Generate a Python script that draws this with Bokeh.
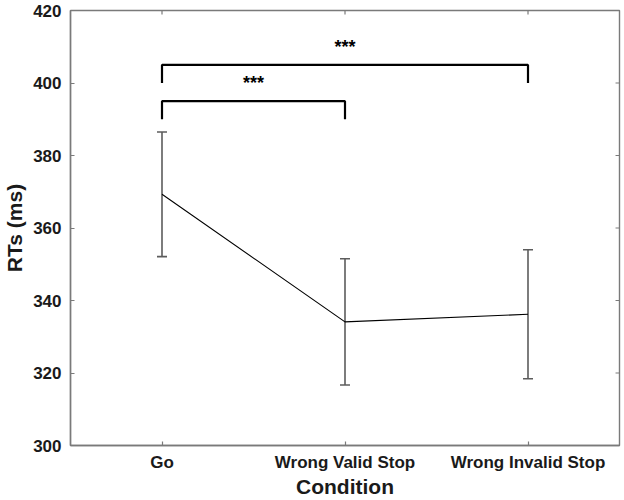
from bokeh.plotting import figure
from bokeh.models import ColumnDataSource, Whisker, TeeHead, FixedTicker, Range1d
from bokeh.embed import file_html
from bokeh.resources import INLINE
from bokeh.core.properties import value

# ---- data ----
conditions = ["Go", "Wrong Valid Stop", "Wrong Invalid Stop"]
mean_rt = [369.3, 334.1, 336.2]
err_rt = [17.2, 17.4, 17.8]
y_ticks = [300, 320, 340, 360, 380, 400, 420]

# significance brackets: (index a, index b, bracket height, label)
sig_a = [0, 0]
sig_b = [1, 2]
sig_h = [395, 405]
sig_lbl = ["***", "***"]
drop = 5

xs = [i + 1 for i in range(len(conditions))]
x0, x1 = 0.5, len(conditions) + 0.5
y0, y1 = y_ticks[0], y_ticks[-1]

FONT = "Liberation Sans"
AXIS_COL = "#7a7a7a"
TXT_COL = "#1a1a1a"

W, H = 624, 500
BL, BR, BT, BB = 66, 5, 10, 53
p = figure(width=W, height=H, output_backend="svg", toolbar_location=None,
           x_range=Range1d(x0, x1), y_range=Range1d(y0, y1),
           min_border_left=BL, min_border_right=BR, min_border_top=BT,
           min_border_bottom=BB)
p.grid.visible = False
p.outline_line_color = AXIS_COL
p.outline_line_width = 1.4
p.background_fill_color = "white"
p.border_fill_color = "white"

def style_axis(ax):
    ax.axis_line_color = AXIS_COL
    ax.axis_line_width = 1.4
    ax.major_tick_line_color = AXIS_COL
    ax.major_tick_line_width = 1.2
    ax.major_tick_in = 4
    ax.major_tick_out = 0
    ax.minor_tick_line_color = None
    ax.major_label_text_font = FONT
    ax.major_label_text_font_style = "bold"
    ax.major_label_text_color = TXT_COL
    ax.major_label_text_font_size = "17px"
    ax.axis_label_text_font = FONT
    ax.axis_label_text_font_style = "bold"
    ax.axis_label_text_font_size = "21px"
    ax.axis_label_text_color = TXT_COL

# bottom x axis
xax = p.xaxis[0]
xax.ticker = FixedTicker(ticks=xs)
xax.major_label_overrides = {x: c for x, c in zip(xs, conditions)}
style_axis(xax)
xax.major_label_standoff = 7
xax.axis_label = "Condition"
xax.axis_label_standoff = 0

# left y axis
yax = p.yaxis[0]
yax.ticker = FixedTicker(ticks=y_ticks)
style_axis(yax)
yax.major_label_standoff = 9
yax.axis_label = "RTs (ms)"
yax.axis_label_standoff = 4

# inward tick marks on the mirrored top and right edges (frame box)
fw, fh = W - BL - BR, H - BT - BB
tick_dy = 4 * (y1 - y0) / fh
tick_dx = 4 * (x1 - x0) / fw
p.segment(x0=xs, y0=[y1] * len(xs), x1=xs, y1=[y1 - tick_dy] * len(xs),
          line_color=AXIS_COL, line_width=1.2)
p.segment(x0=[x1] * len(y_ticks), y0=y_ticks, x1=[x1 - tick_dx] * len(y_ticks),
          y1=y_ticks, line_color=AXIS_COL, line_width=1.2)

# mean line with error bars
src = ColumnDataSource(dict(x=xs, y=mean_rt,
                            upper=[m + e for m, e in zip(mean_rt, err_rt)],
                            lower=[m - e for m, e in zip(mean_rt, err_rt)]))
ERR_COL = "#5c5c5c"
w = Whisker(source=src, base="x", upper="upper", lower="lower",
            dimension="height", line_color=ERR_COL, line_width=1.6,
            upper_head=TeeHead(size=10, line_color=ERR_COL, line_width=1.6),
            lower_head=TeeHead(size=10, line_color=ERR_COL, line_width=1.6))
p.add_layout(w)
p.line("x", "y", source=src, line_color="black", line_width=1.1)

# brackets
bx, by, tx, ty = [], [], [], []
for a, b, h in zip(sig_a, sig_b, sig_h):
    xa, xb = xs[a], xs[b]
    bx.append([xa, xa, xb, xb])
    by.append([h - drop, h, h, h - drop])
    tx.append((xa + xb) / 2)
    ty.append(h + drop)
p.multi_line(xs=bx, ys=by, line_color="black", line_width=2.2)
p.text(x=tx, y=ty, text=sig_lbl, text_font=value(FONT), text_font_style="bold",
       text_font_size="18px", text_align="center", text_baseline="middle",
       text_color="black")

open("out.html", "w").write(file_html(p, INLINE))
